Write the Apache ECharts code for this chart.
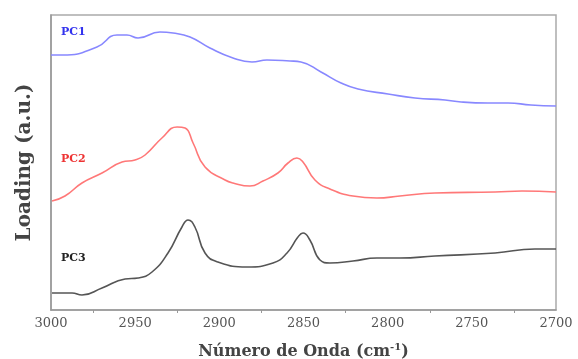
<!DOCTYPE html>
<html>
<head>
<meta charset="utf-8">
<script src="https://cdn.jsdelivr.net/npm/echarts@6/dist/echarts.min.js"></script>
<style>
  html, body { margin: 0; padding: 0; background: #fff; }
  #main { width: 578px; height: 359px; }
</style>
</head>
<body>
<div id="main"></div>
<script>
// wavenumbers (cm-1) and loadings (arbitrary units)
const pc1Wn = [3000, 2992.9, 2972.7, 2960.8, 2954.9, 2948.3, 2935.3, 2927.5, 2917.4, 2905.6, 2891.9, 2880.6, 2871.7, 2858.0, 2851.5, 2839.6, 2827.7, 2817.6, 2799.8, 2783.8, 2765.9, 2756.4, 2740.4, 2728.5, 2714.9, 2700]
const pc1Val = [255, 255, 263, 275, 275, 272, 278, 277, 273, 262, 252, 248, 250, 249, 248, 238, 227, 221, 216, 212, 210, 208, 207, 207, 205, 204]

const pc2Wn = [2999.4, 2991.7, 2981.6, 2969.7, 2957.8, 2950.1, 2944.1, 2934.1, 2925.1, 2920.4, 2915.6, 2908.5, 2896.6, 2891.9, 2881.8, 2874.1, 2865.2, 2859.2, 2853.9, 2850.3, 2843.2, 2834.3, 2820.6, 2806.4, 2792.7, 2771.9, 2736.2, 2720.2, 2700]
const pc2Val = [109, 114, 127, 137, 148, 150, 155, 172, 183, 182, 167, 143, 130, 127, 124, 129, 137, 147, 152, 148, 130, 121, 114, 112, 114, 117, 118, 119, 118]

const pc3Wn = [2999.4, 2987.5, 2981.6, 2969.7, 2956.0, 2948.3, 2940.0, 2930.5, 2922.2, 2918.6, 2914.5, 2908.5, 2900.8, 2883.6, 2868.1, 2859.8, 2853.3, 2850.3, 2846.2, 2840.2, 2834.3, 2820.6, 2806.4, 2792.7, 2771.9, 2736.2, 2712.5, 2700]
const pc3Val = [17, 17, 15, 22, 31, 32, 38, 57, 83, 90, 83, 57, 48, 43, 47, 57, 73, 77, 70, 50, 47, 49, 52, 52, 54, 57, 61, 61]

const xTicks = [3000, 2950, 2900, 2850, 2800, 2750, 2700]

const zip = (a, b) => a.map((v, i) => [v, b[i]])

const myChart = echarts.init(document.getElementById('main'))
const serif = 'DejaVu Serif, Liberation Serif, serif'

const lineSeries = (name, data, color) => ({
  name: name,
  type: 'line',
  smooth: 0.5,
  showSymbol: false,
  data: data,
  lineStyle: { color: color, width: 1.6 }
})

const option = {
  animation: false,
  grid: {
    left: 51,
    right: 22,
    top: 15,
    bottom: 49,
    outerBoundsMode: 'none',
    show: true,
    borderColor: '#aaa',
    borderWidth: 1.5
  },
  xAxis: {
    type: 'value',
    inverse: true,
    min: 2700,
    max: 3000,
    interval: 50,
    name: 'Número de Onda (cm{sup|-1})',
    nameLocation: 'middle',
    nameGap: 32,
    nameTextStyle: {
      fontFamily: serif,
      fontWeight: 'bold',
      fontSize: 16,
      color: '#444',
      rich: {
        sup: { fontFamily: serif, fontWeight: 'bold', fontSize: 10, color: '#444', verticalAlign: 'top', padding: [0, 0, 9, 0] }
      }
    },
    axisLine: { show: true, lineStyle: { color: '#999', width: 1.5 } },
    axisTick: { show: false },
    minorTick: { show: true, splitNumber: 2, length: 3, lineStyle: { color: '#999' } },
    splitLine: { show: false },
    axisLabel: {
      fontFamily: serif,
      fontSize: 13,
      color: '#555',
      margin: 7,
      formatter: v => xTicks.includes(v) ? String(v) : ''
    }
  },
  yAxis: {
    type: 'value',
    min: 0,
    max: 295,
    name: 'Loading (a.u.)',
    nameLocation: 'middle',
    nameGap: 16,
    nameTextStyle: {
      fontFamily: serif,
      fontWeight: 'bold',
      fontSize: 20,
      color: '#444'
    },
    axisLine: { show: true, lineStyle: { color: '#999', width: 1.5 } },
    axisTick: { show: false },
    axisLabel: { show: false },
    splitLine: { show: false }
  },
  series: [
    lineSeries('PC1', zip(pc1Wn, pc1Val), '#8888ff'),
    lineSeries('PC2', zip(pc2Wn, pc2Val), '#ff7878'),
    lineSeries('PC3', zip(pc3Wn, pc3Val), '#555555')
  ],
  graphic: [
    { type: 'text', left: 61, top: 27, style: { text: 'PC1', fill: '#3333ee', font: 'bold 11px ' + serif } },
    { type: 'text', left: 61, top: 154, style: { text: 'PC2', fill: '#ee3333', font: 'bold 11px ' + serif } },
    { type: 'text', left: 61, top: 253, style: { text: 'PC3', fill: '#222', font: 'bold 11px ' + serif } }
  ]
}
option && myChart.setOption(option)
</script>
</body>
</html>
